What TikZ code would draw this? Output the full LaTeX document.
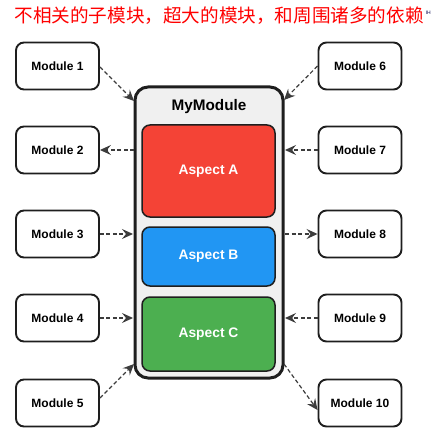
\documentclass[tikz,border=0pt]{standalone}
\usepackage{fontspec}
\setmainfont{Liberation Sans}
\newfontfamily\cjk{Noto Sans CJK SC}
\usetikzlibrary{arrows.meta}
\definecolor{aRed}{HTML}{F44336}
\definecolor{aBlue}{HTML}{2196F3}
\definecolor{aGreen}{HTML}{4CAF50}
\definecolor{boxLine}{HTML}{1E1E1E}
\definecolor{arrowGray}{HTML}{3C3C3C}
\definecolor{contFill}{HTML}{F0F0F0}
\begin{document}
\begin{tikzpicture}[x=1pt,y=-1pt,
  modbox/.style={draw=boxLine, line width=1.9pt, fill=white, rounded corners=8pt,
    minimum width=83pt, minimum height=47pt, inner sep=0pt, font=\bfseries\fontsize{12}{14}\selectfont},
  aspbox/.style={draw=boxLine, line width=1.5pt, rounded corners=8pt, inner sep=0pt,
    text=white, font=\bfseries\fontsize{13.8}{16}\selectfont},
  dep/.style={draw=arrowGray, line width=1.2pt, dash pattern=on 4pt off 2.5pt,
    -{Stealth[length=11pt,width=10pt,inset=4pt]}}
]
\useasboundingbox (0,0) rectangle (431,438);
\node[text=red, font=\cjk\fontsize{18.6}{20}\selectfont, anchor=center, inner sep=0pt] (title) at (219,16) {不相关的子模块，超大的模块，和周围诸多的依赖};
\node[text=black!70!blue, font=\fontsize{5}{6}\selectfont, inner sep=0pt, anchor=east] (ih) at (431,13) {IH};

% container
\node[draw=boxLine, line width=3pt, fill=contFill, rounded corners=13pt, minimum width=148pt, minimum height=291pt, inner sep=0pt] (cont) at (209,232.5) {};
\node[font=\bfseries\fontsize{15.3}{17}\selectfont, inner sep=0pt] (mm) at (209,107) {MyModule};
\node[aspbox, fill=aRed, minimum width=133pt, minimum height=92pt] (A) at (208.5,171) {Aspect A};
\node[aspbox, fill=aBlue, minimum width=133pt, minimum height=59pt] (B) at (208.5,256.5) {Aspect B};
\node[aspbox, fill=aGreen, minimum width=133pt, minimum height=74pt] (C) at (208.5,334) {Aspect C};

% modules
\node[modbox] (m1) at (57.5,66) {Module 1};
\node[modbox] (m2) at (57.5,150) {Module 2};
\node[modbox] (m3) at (57.5,234) {Module 3};
\node[modbox] (m4) at (57.5,318) {Module 4};
\node[modbox] (m5) at (57.5,403) {Module 5};
\node[modbox] (m6) at (360,66) {Module 6};
\node[modbox] (m7) at (360,150) {Module 7};
\node[modbox] (m8) at (360,234) {Module 8};
\node[modbox] (m9) at (360,318) {Module 9};
\node[modbox] (m10) at (360,403) {Module 10};

% connector endpoints on container
\coordinate (c1) at (134,101);
\coordinate (c2) at (134,150);
\coordinate (c3) at (133,234);
\coordinate (c4) at (133,318);
\coordinate (c5) at (134,364);
\coordinate (c6) at (284,100);
\coordinate (c7) at (285,150);
\coordinate (c8) at (285,234);
\coordinate (c9) at (285,318);
\coordinate (c10) at (284,364);

\draw[dep] (m1.east) ++(0,1) -- (c1);
\draw[dep] (c2) -- (m2.east);
\draw[dep] (m3.east) -- (c3);
\draw[dep] (m4.east) -- (c4);
\draw[dep] (m5.east) ++(0,-5) -- (c5);
\draw[dep] (m6.west) -- (c6);
\draw[dep] (m7.west) -- (c7);
\draw[dep] (c8) -- (m8.west);
\draw[dep] (m9.west) -- (c9);
\draw[dep] (c10) -- ([yshift=-7pt]m10.west);
\end{tikzpicture}
\end{document}
